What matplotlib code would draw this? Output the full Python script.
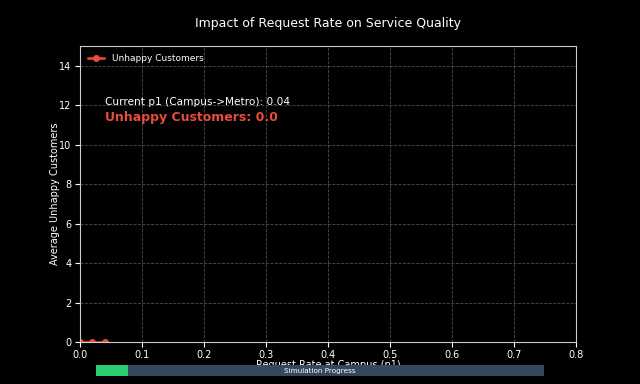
import matplotlib
matplotlib.use("Agg")
import matplotlib.pyplot as plt

p1_values = [0.0, 0.02, 0.04]
unhappy_values = [0.0, 0.0, 0.0]
current_p1 = 0.04
current_unhappy = 0.0
progress = 0.071

fig = plt.figure(figsize=(6.4, 3.84), dpi=100, facecolor="black")
ax = fig.add_axes([80/640, 1-342/384, 496/640, 296/384], facecolor="black")
ax.plot(p1_values, unhappy_values, color="#e74c3c", marker="o", markersize=4,
        linewidth=1.8, label="Unhappy Customers")
ax.set_xlim(0, 0.8)
ax.set_ylim(0, 15)
ax.set_yticks(range(0, 15, 2))
ax.grid(True, color="gray", linestyle="--", linewidth=0.6, alpha=0.6)
for s in ax.spines.values():
    s.set_color("#cccccc")
ax.tick_params(colors="white", labelsize=7, pad=2.5)
ax.set_xlabel("Request Rate at Campus (p1)", color="white", fontsize=7, labelpad=0)
ax.set_ylabel("Average Unhappy Customers", color="white", fontsize=7)
ax.yaxis.set_label_coords(-20/496, 0.5)
ax.set_title("Impact of Request Rate on Service Quality", color="white",
             fontsize=9, pad=13.5)
leg = ax.legend(loc="upper left", frameon=False, fontsize=6.5, labelcolor="white",
                handlelength=1.8)
ax.text(0.05, 0.8, f"Current p1 (Campus->Metro): {current_p1:.2f}", transform=ax.transAxes,
        color="white", fontsize=7.6)
ax.text(0.05, 0.745, f"Unhappy Customers: {current_unhappy:.1f}", transform=ax.transAxes,
        color="#e74c3c", fontsize=9, fontweight="bold")

pax = fig.add_axes([96/640, 1-376/384, 448/640, 11/384], facecolor="#34495e")
pax.barh([0], [progress], height=1, color="#2ecc71")
pax.set_xlim(0, 1)
pax.set_ylim(-0.5, 0.5)
pax.set_xticks([]); pax.set_yticks([])
for s in pax.spines.values():
    s.set_visible(False)
pax.text(0.5, 0.0, "Simulation Progress", color="white", fontsize=5.2,
         ha="center", va="center", transform=pax.transData)

fig.savefig("out.png", dpi=100, facecolor="black")
